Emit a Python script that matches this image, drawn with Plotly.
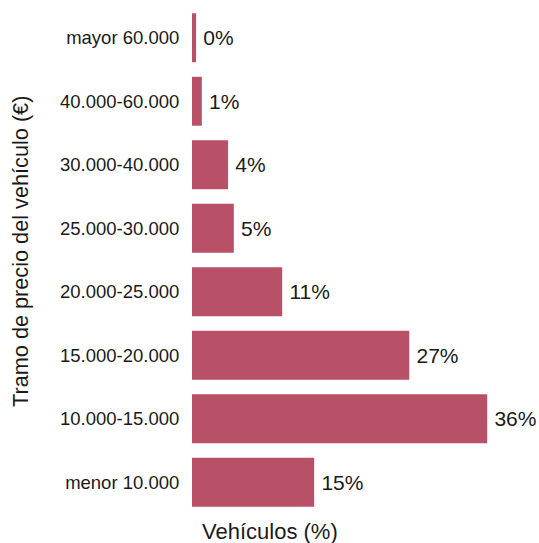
import plotly.graph_objects as go

categories = ["menor 10.000", "10.000-15.000", "15.000-20.000", "20.000-25.000",
              "25.000-30.000", "30.000-40.000", "40.000-60.000", "mayor 60.000"]
values = [14.9, 36.0, 26.5, 11.0, 5.1, 4.4, 1.2, 0.5]
labels = ["15%", "36%", "27%", "11%", "5%", "4%", "1%", "0%"]

W, H = 539, 543
ml, mr, mt, mb = 192, 19, 6, 29
pw = W - ml - mr

fig = go.Figure(go.Bar(
    y=categories, x=values, orientation="h",
    marker=dict(color="#b85068", line=dict(width=0)),
    text=labels, texttemplate="\u2009%{text}", textposition="outside",
    textfont=dict(size=21, color="#1a1a1a", family="Liberation Sans, Arial"),
    cliponaxis=False, hoverinfo="skip",
))

fig.update_layout(
    width=W, height=H,
    margin=dict(l=ml, r=mr, t=mt, b=mb, autoexpand=False),
    paper_bgcolor="white", plot_bgcolor="white",
    bargap=0.23, showlegend=False,
    font=dict(family="Liberation Sans, Arial", color="#1a1a1a"),
    xaxis=dict(range=[0, 40], showticklabels=False, showgrid=False, zeroline=False,
               showline=False, ticks=""),
    yaxis=dict(categoryorder="array", categoryarray=categories, showgrid=False,
               zeroline=False, showline=False, ticks="outside", ticklen=8,
               tickcolor="rgba(0,0,0,0)", tickfont=dict(size=18.5, color="#1a1a1a")),
    annotations=[
        dict(text="Vehículos (%)", xref="paper", yref="paper",
             x=(W / 2 - ml) / pw, y=-(531 - (H - mb)) / (H - mt - mb),
             xanchor="center", yanchor="middle", showarrow=False,
             font=dict(size=22, color="#1a1a1a")),
        dict(text="Tramo de precio del vehículo (€)", xref="paper", yref="paper",
             x=(20 - ml) / pw, y=((H - mb) - 252) / (H - mt - mb), textangle=-90,
             xanchor="center", yanchor="middle", showarrow=False,
             font=dict(size=21.7, color="#1a1a1a")),
    ],
)

fig.write_html("out.html", config={"displayModeBar": False},
               post_script="document.body.style.margin='0px';")
